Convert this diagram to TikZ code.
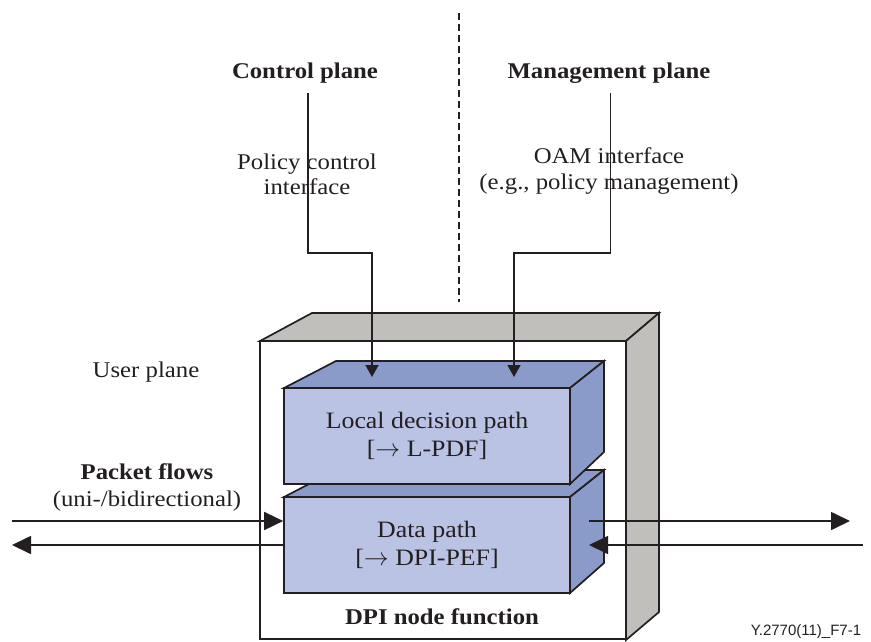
\documentclass[tikz,border=0pt]{standalone}
\usepackage{fontspec}
\setmainfont{Liberation Serif}[FakeStretch=1.1]
\setsansfont{Liberation Sans}
\usetikzlibrary{arrows.meta}

\definecolor{faceblue}{RGB}{186,195,228}
\definecolor{sideblue}{RGB}{138,154,201}
\definecolor{framegray}{RGB}{192,191,188}
\definecolor{ink}{RGB}{35,31,32}

\begin{document}
\begin{tikzpicture}[x=1pt, y=-1pt, line width=1.7pt, draw=ink, text=ink,
		lbl/.style={font=\fontsize{22.5}{25}\selectfont, align=center, inner sep=0pt},
		head/.style={lbl, font=\fontsize{22.5}{25}\selectfont\bfseries},
		pathbox/.style={draw, fill=faceblue, minimum width=286pt, minimum height=96pt, inner sep=0pt, align=center, font=\fontsize{23.5}{28}\selectfont},
		side/.style={draw, fill=sideblue},
		ifarrow/.style={-{Triangle[length=12pt,width=13pt]}},
		flow/.style={-{Triangle[length=19pt,width=18pt]}}]
		\useasboundingbox (0,0) rectangle (871,641);

		% plane divider
		\draw[dash pattern=on 7pt off 4pt] (459,13) -- (459,302);

		% DPI node frame
		\filldraw[fill=framegray] (260,341) -- (312,313) -- (659,313) -- (626,341) -- cycle;
		\filldraw[fill=framegray] (626,341) -- (659,313) -- (659,612) -- (626,640) -- cycle;
		\node[draw, fill=white, minimum width=366pt, minimum height=298pt, inner sep=0pt] (frame) at (443,490) {};

		% data path box
		\path[side] (284,497) -- (336,470) -- (604,470) -- (570,497) -- cycle;
		\path[side] (570,497) -- (604,470) -- (604,563) -- (570,593) -- cycle;
		\node[pathbox] (dp) at (427,545) {Data path\\{[}$\rightarrow$ DPI-PEF{]}};

		% local decision path box
		\path[side] (284,388) -- (336,361) -- (604,361) -- (570,388) -- cycle;
		\path[side] (570,388) -- (604,361) -- (604,452) -- (570,484) -- cycle;
		\node[pathbox] (ldp) at (427,436) {Local decision path\\{[}$\rightarrow$ L-PDF{]}};

		% texts
		\node[head] (ctlplane) at (305,73) {Control plane};
		\node[head] (mgmtplane) at (609,73) {Management plane};
		\node[lbl] (ctlif) at (307,174) {Policy control\\interface};
		\node[lbl] (oamif) at (609,171) {OAM interface\\(e.g., policy management)};
		\node[lbl] (userplane) at (146,372) {User plane};
		\node[lbl, font=\fontsize{22.5}{27}\selectfont] (flows) at (147,487) {\textbf{Packet flows}\\(uni-/bidirectional)};
		\node[head] (dpiname) at (442,617) {DPI node function};
		\node[anchor=east, inner sep=0pt, font=\sffamily\fontsize{15}{15}\selectfont] (figid) at (862,632) {Y.2770(11)\_F7-1};

		% interfaces
		\coordinate (ctlsrc) at (308,93);
		\coordinate (ctlturn) at (372,253);
		\coordinate (ctltip) at (372,377);
		\coordinate (oamsrc) at (610.5,93);
		\coordinate (oamturn) at (514,253);
		\coordinate (oamtip) at (514,377);
		\draw[ifarrow] (ctlsrc) |- (ctlturn) -- (ctltip);
		\draw[ifarrow] (oamsrc) |- (oamturn) -- (oamtip);

		% packet flows
		\coordinate (inleft) at (12,521);
		\coordinate (outleft) at (12,545);
		\coordinate (dpout) at (589,521);
		\coordinate (dpin) at (589,545);
		\coordinate (outright) at (850,521);
		\coordinate (inright) at (863,545);
		\draw[flow] (inleft) -- ([yshift=24pt]dp.west);
		\draw[flow] (dp.west) -- (outleft);
		\draw[flow] (dpout) -- (outright);
		\draw[flow] (inright) -- (dpin);
	\end{tikzpicture}
\end{document}
